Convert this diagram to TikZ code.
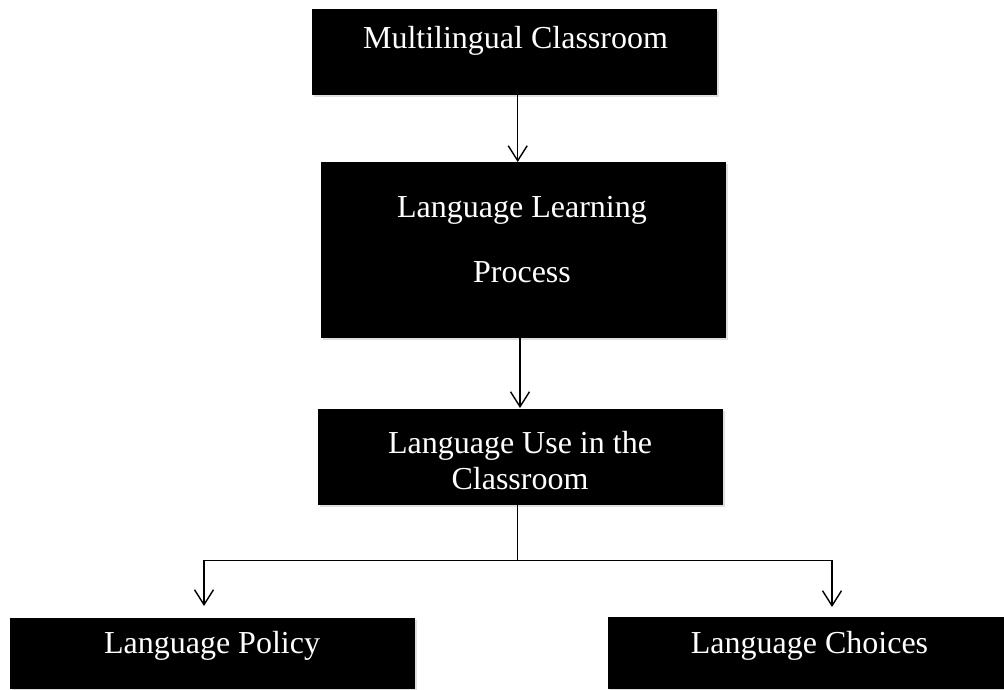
\documentclass[tikz,border=0pt]{standalone}
\usepackage{fontspec}
\setmainfont{Liberation Serif}
\usetikzlibrary{arrows.meta,shadows}
\begin{document}
\begin{tikzpicture}[x=1pt,y=-1pt,
  box/.style={draw=none,fill=black,inner sep=0pt,
    drop shadow={opacity=0.25,shadow xshift=1.5pt,shadow yshift=-2pt}},
  lbl/.style={text=white,font=\fontsize{32}{36}\selectfont,inner sep=0pt,align=center},
  conn/.style={line width=1.4pt,draw=black},
  arr/.style={conn,-{Straight Barb[length=15pt,width=19pt,line width=1.4pt]}}]
\useasboundingbox (0,0) rectangle (1004,689);
% boxes
\path[box] (312,9) rectangle (717,95) node[pos=0.5,inner sep=0pt] (b1) {};
\path[box] (321,162) rectangle (726,338) node[pos=0.5,inner sep=0pt] (b2) {};
\path[box] (318,409) rectangle (723,505) node[pos=0.5,inner sep=0pt] (b3) {};
\path[box] (10,618) rectangle (415,689) node[pos=0.5,inner sep=0pt] (b4) {};
\path[box] (608,617) rectangle (1004,689) node[pos=0.5,inner sep=0pt] (b5) {};
% labels
\node[lbl] (l1) at (515.5,41) {Multilingual Classroom};
\node[lbl] (l2a) at (522,210) {Language Learning};
\node[lbl] (l2b) at (522,272) {Process};
\node[lbl] (l3) at (520,461) {Language Use in the\\Classroom};
\node[lbl] (l4) at (212,646) {Language Policy};
\node[lbl] (l5) at (809.5,646) {Language Choices};
% connector points
\coordinate (a1s) at (517.7,95);
\coordinate (a1e) at (517.7,162);
\coordinate (a2s) at (520,338);
\coordinate (a2e) at (520,408);
\coordinate (a3s) at (517.7,505);
\coordinate (j) at (517.7,560.5);
\coordinate (t4) at (204,606);
\coordinate (t5) at (832,607);
\draw[arr] (a1s) -- (a1e);
\draw[arr] (a2s) -- (a2e);
\draw[conn] (a3s) -- (j);
\draw[arr] (j) -| (t4);
\draw[arr] (j) -| (t5);
\end{tikzpicture}
\end{document}
